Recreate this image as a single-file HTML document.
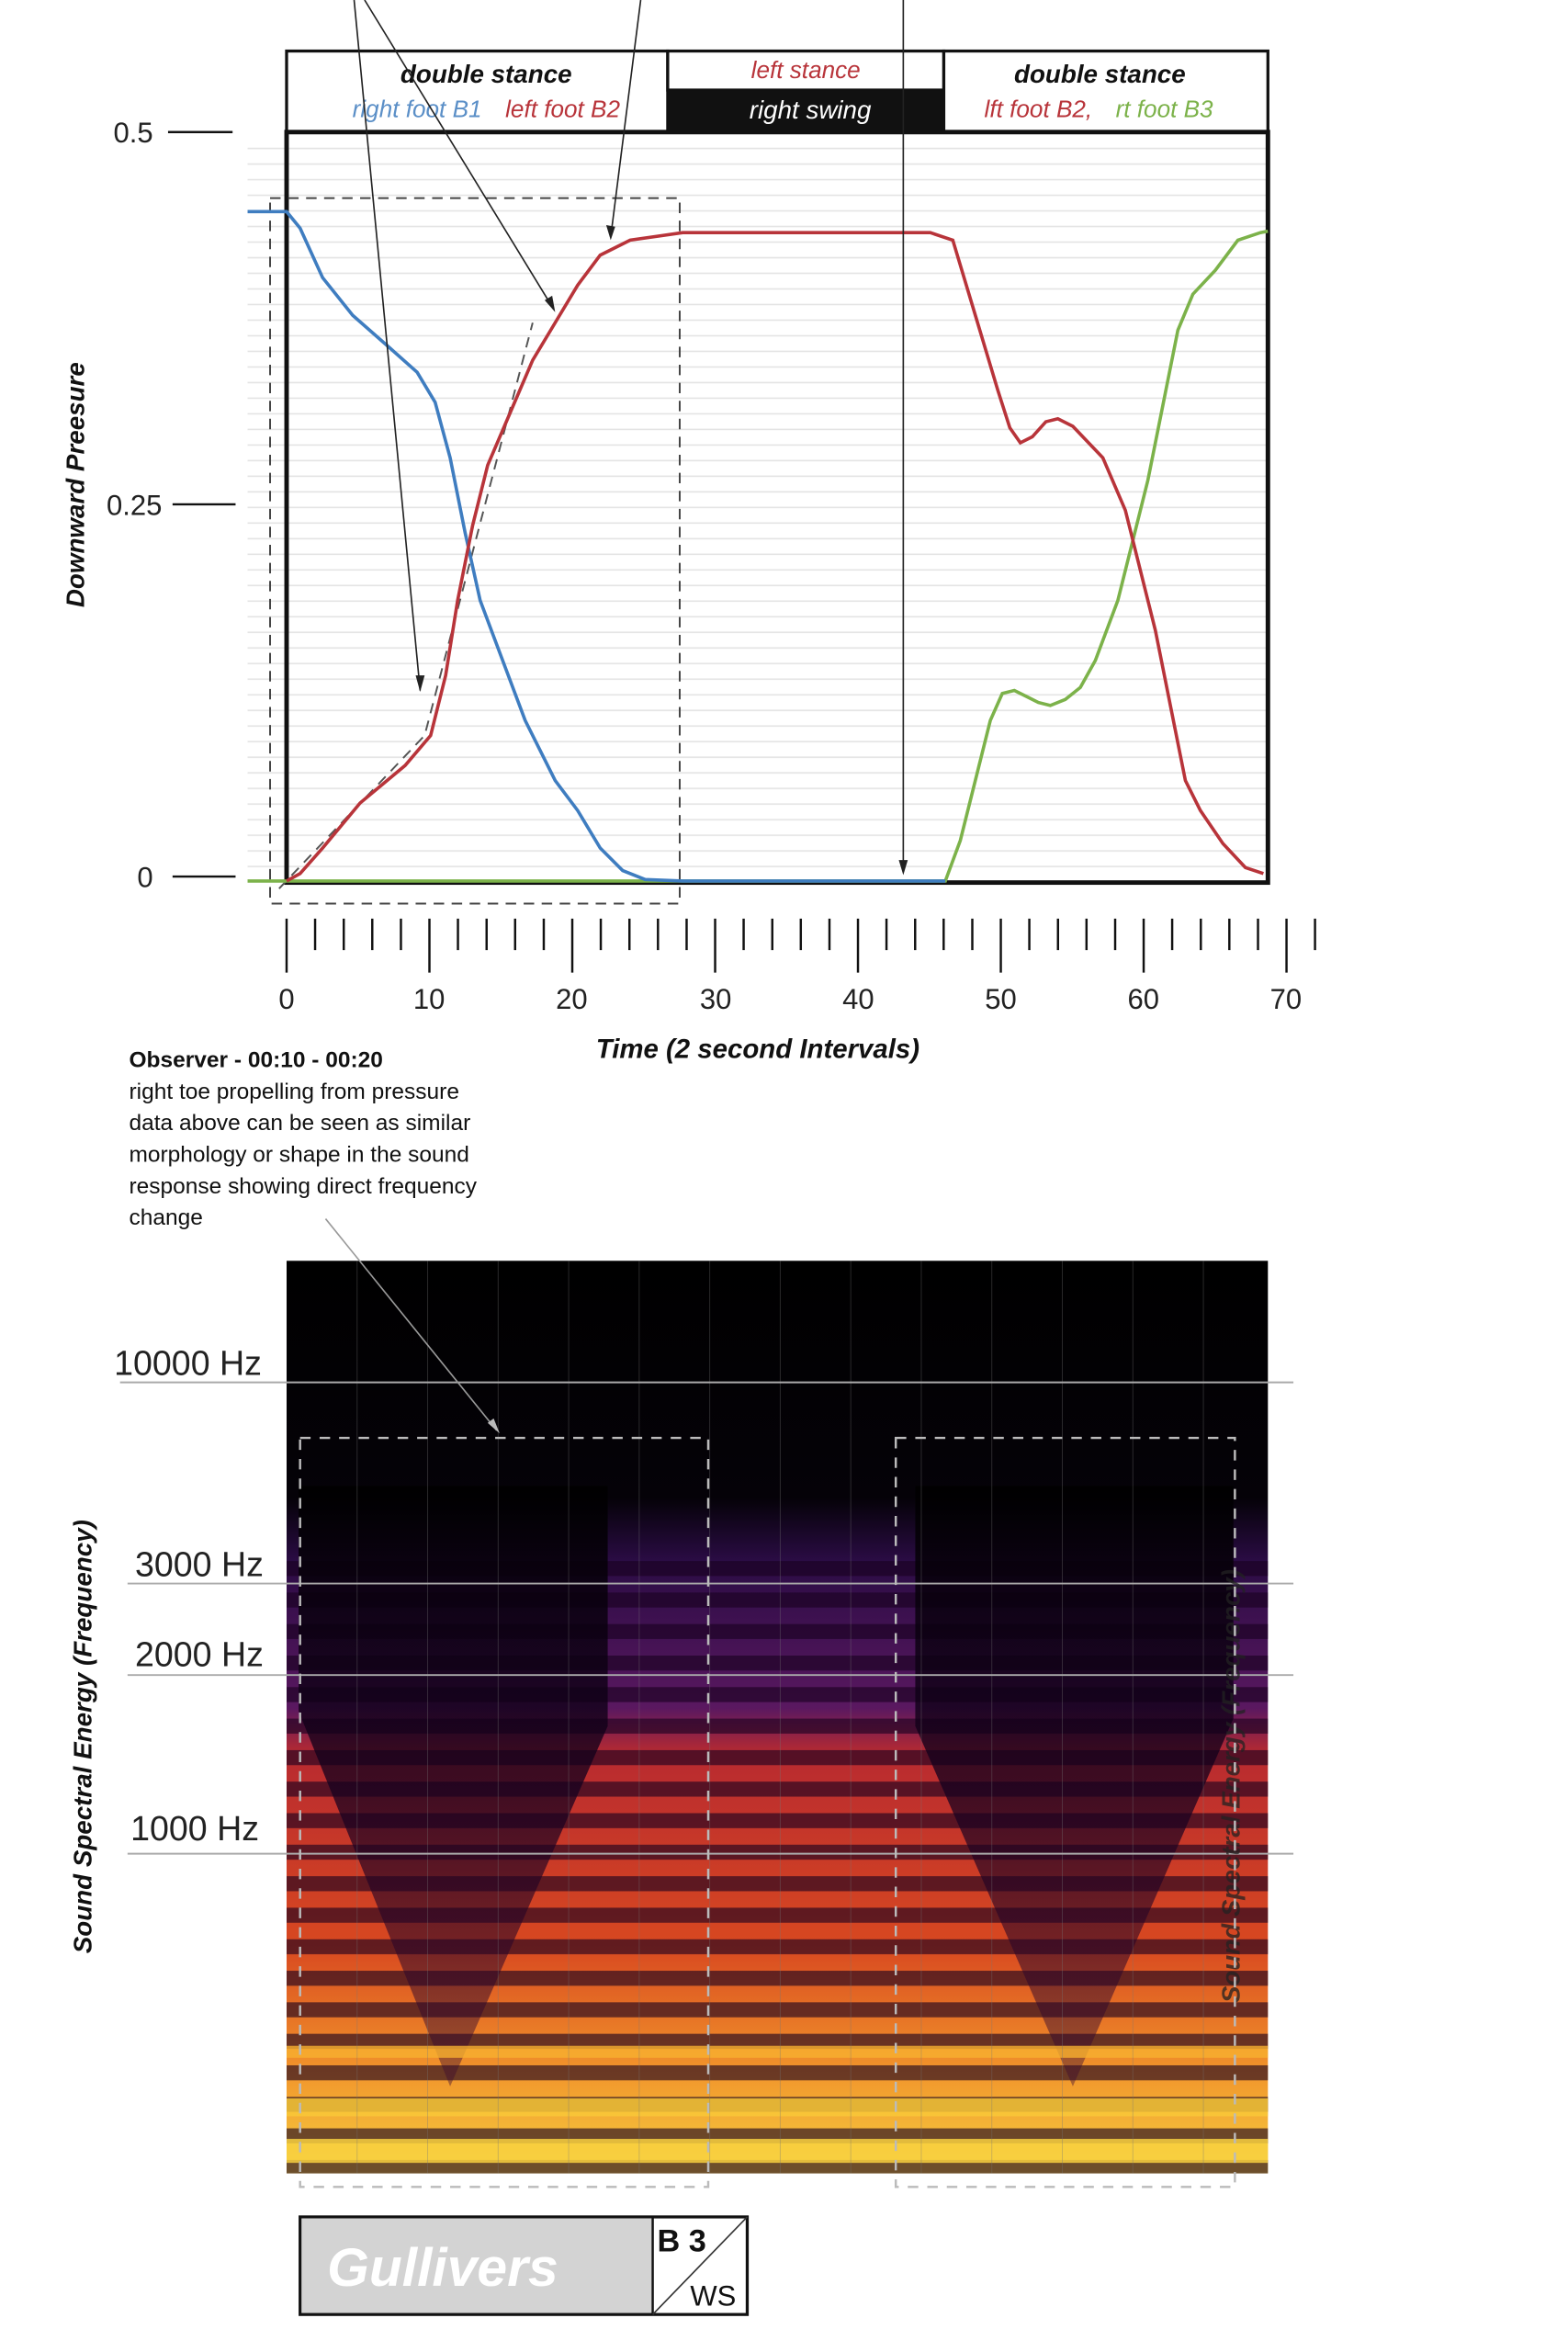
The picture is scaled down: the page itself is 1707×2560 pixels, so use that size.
<!DOCTYPE html>
<html><head><meta charset="utf-8"><style>
html,body{margin:0;padding:0;background:#fff;}
svg{display:block;}
text{font-family:"Liberation Sans",sans-serif;}
</style></head><body>
<svg width="1707" height="2560" viewBox="0 0 1045 1567" preserveAspectRatio="none" xmlns="http://www.w3.org/2000/svg">
<defs>
<pattern id="grid" x="0" y="88" width="10" height="10.4" patternUnits="userSpaceOnUse">
<line x1="0" y1="0.5" x2="10" y2="0.5" stroke="#e4e4e4" stroke-width="1"/>
</pattern>
<linearGradient id="spg" x1="0" y1="0" x2="0" y2="1">
<stop offset="0" stop-color="#000"/>
<stop offset="0.26" stop-color="#050208"/>
<stop offset="0.33" stop-color="#2b0c45"/>
<stop offset="0.49" stop-color="#5a1860"/>
<stop offset="0.54" stop-color="#b82a30"/>
<stop offset="0.75" stop-color="#d84820"/>
<stop offset="0.88" stop-color="#f0902a"/>
<stop offset="1" stop-color="#f8d040"/>
</linearGradient>
<pattern id="stripes" x="0" y="1040" width="20" height="21" patternUnits="userSpaceOnUse">
<rect x="0" y="0" width="20" height="10" fill="rgba(25,0,30,0.62)"/>
</pattern>
<linearGradient id="vdark" x1="0" y1="0" x2="0" y2="1">
<stop offset="0" stop-color="#000" stop-opacity="0.9"/>
<stop offset="0.5" stop-color="#14001e" stop-opacity="0.75"/>
<stop offset="1" stop-color="#3a0830" stop-opacity="0.4"/>
</linearGradient>
</defs>

<rect x="165" y="92" width="680" height="494" fill="url(#grid)"/>

<rect x="191" y="34" width="254" height="54" fill="#fff" stroke="#111" stroke-width="2"/>
<rect x="445" y="34" width="184" height="26" fill="#fff" stroke="#111" stroke-width="2"/>
<rect x="445" y="60" width="184" height="28" fill="#111"/>
<rect x="629" y="34" width="216" height="54" fill="#fff" stroke="#111" stroke-width="2"/>
<text x="324" y="55" font-size="17" font-weight="bold" font-style="italic" text-anchor="middle" fill="#111">double stance</text>
<text x="278" y="78" font-size="16" font-style="italic" text-anchor="middle" fill="#5b8fc7">right foot B1</text>
<text x="375" y="78" font-size="16" font-style="italic" text-anchor="middle" fill="#b8343a">left foot B2</text>
<text x="537" y="52" font-size="16" font-style="italic" text-anchor="middle" fill="#b8343a">left stance</text>
<text x="540" y="79" font-size="17" font-style="italic" text-anchor="middle" fill="#fff">right swing</text>
<text x="733" y="55" font-size="17" font-weight="bold" font-style="italic" text-anchor="middle" fill="#111">double stance</text>
<text x="692" y="78" font-size="16" font-style="italic" text-anchor="middle" fill="#b8343a">lft foot B2,</text>
<text x="776" y="78" font-size="16" font-style="italic" text-anchor="middle" fill="#7cb24a">rt foot B3</text>

<rect x="191" y="88" width="654" height="500" fill="none" stroke="#111" stroke-width="3"/>

<text x="102" y="95" font-size="19" text-anchor="end" fill="#222">0.5</text>
<line x1="112" y1="88" x2="155" y2="88" stroke="#111" stroke-width="1.5"/>
<text x="108" y="343" font-size="19" text-anchor="end" fill="#222">0.25</text>
<line x1="115" y1="336" x2="157" y2="336" stroke="#111" stroke-width="1.5"/>
<text x="102" y="591" font-size="19" text-anchor="end" fill="#222">0</text>
<line x1="115" y1="584" x2="157" y2="584" stroke="#111" stroke-width="1.5"/>
<text transform="translate(56,323) rotate(-90)" font-size="17" font-weight="bold" font-style="italic" text-anchor="middle" fill="#111">Downward Preesure</text>

<rect x="180" y="132" width="273" height="470" fill="none" stroke="#444" stroke-width="1.2" stroke-dasharray="7,5"/>
<polyline points="186,592 283,490 355,215" fill="none" stroke="#555" stroke-width="1.2" stroke-dasharray="7,5"/>

<polyline fill="none" stroke="#7cb24a" stroke-width="2.2" points="165,587 630,587 640,560 650,520 660,480 668,462 676,460 684,464 692,468 700,470 710,466 720,458 730,440 745,400 755,360 765,320 775,270 785,220 795,196 810,180 825,160 840,155 845,154"/>
<polyline fill="none" stroke="#3f7dc0" stroke-width="2.2" points="165,141 191,141 200,152 215,185 235,210 260,232 278,248 290,268 300,305 310,355 320,400 335,440 350,480 370,520 385,540 400,565 415,580 430,586 455,587 630,587"/>
<polyline fill="none" stroke="#b8343a" stroke-width="2.2" points="191,587 200,582 215,565 240,535 270,510 287,490 297,450 305,400 315,350 325,310 340,275 355,240 370,215 385,190 400,170 420,160 455,155 620,155 635,160 650,210 665,260 673,285 680,295 688,291 697,281 705,279 715,284 735,305 750,340 760,380 770,420 780,470 790,520 800,540 815,562 830,578 842,582"/>

<path stroke="#111" stroke-width="1.5" d="M210 612V633M229.1 612V633M248.1 612V633M267.2 612V633M305.2 612V633M324.3 612V633M343.3 612V633M362.4 612V633M400.4 612V633M419.5 612V633M438.5 612V633M457.6 612V633M495.6 612V633M514.7 612V633M533.7 612V633M552.8 612V633M590.8 612V633M609.9 612V633M628.9 612V633M648 612V633M686 612V633M705.1 612V633M724.1 612V633M743.2 612V633M781.2 612V633M800.3 612V633M819.3 612V633M838.4 612V633M876.4 612V633"/>
<path stroke="#111" stroke-width="1.5" d="M191 612V648M286.2 612V648M381.4 612V648M476.6 612V648M571.8 612V648M667 612V648M762.2 612V648M857.4 612V648"/>
<g font-size="19" text-anchor="middle" fill="#222">
<text x="191" y="672">0</text><text x="286" y="672">10</text><text x="381" y="672">20</text><text x="477" y="672">30</text><text x="572" y="672">40</text><text x="667" y="672">50</text><text x="762" y="672">60</text><text x="857" y="672">70</text>
</g>
<text x="505" y="705" font-size="18" font-style="italic" font-weight="bold" text-anchor="middle" fill="#111">Time (2 second Intervals)</text>

<g font-size="15" fill="#111">
<text x="86" y="711" font-weight="bold">Observer - 00:10 - 00:20</text>
<text x="86" y="732">right toe propelling from pressure</text>
<text x="86" y="753">data above can be seen as similar</text>
<text x="86" y="774">morphology or shape in the sound</text>
<text x="86" y="795">response showing direct frequency</text>
<text x="86" y="816">change</text>
</g>

<rect x="191" y="840" width="654" height="608" fill="url(#spg)"/>
<rect x="191" y="1040" width="654" height="408" fill="url(#stripes)"/>
<polygon points="199,990 405,990 405,1150 300,1390 199,1140" fill="url(#vdark)"/>
<polygon points="610,990 822,990 822,1145 715,1390 610,1150" fill="url(#vdark)"/>
<rect x="191" y="1363" width="654" height="8" fill="#f7b030" opacity="0.8"/>
<rect x="191" y="1398" width="654" height="12" fill="#f8c838" opacity="0.85"/>
<rect x="191" y="1425" width="654" height="16" fill="#f8d040" opacity="0.85"/>
<g stroke="#777" stroke-width="0.6" opacity="0.35">
<line x1="238" y1="840" x2="238" y2="1448"/><line x1="285" y1="840" x2="285" y2="1448"/><line x1="332" y1="840" x2="332" y2="1448"/><line x1="379" y1="840" x2="379" y2="1448"/><line x1="426" y1="840" x2="426" y2="1448"/><line x1="473" y1="840" x2="473" y2="1448"/><line x1="520" y1="840" x2="520" y2="1448"/><line x1="567" y1="840" x2="567" y2="1448"/><line x1="614" y1="840" x2="614" y2="1448"/><line x1="661" y1="840" x2="661" y2="1448"/><line x1="708" y1="840" x2="708" y2="1448"/><line x1="755" y1="840" x2="755" y2="1448"/><line x1="802" y1="840" x2="802" y2="1448"/>
</g>
<g stroke="#aaa" stroke-width="1.2">
<line x1="80" y1="921" x2="862" y2="921"/>
<line x1="85" y1="1055" x2="862" y2="1055"/>
<line x1="85" y1="1116" x2="862" y2="1116"/>
<line x1="85" y1="1235" x2="862" y2="1235"/>
</g>
<g font-size="23" fill="#222">
<text x="76" y="916">10000 Hz</text>
<text x="90" y="1050">3000 Hz</text>
<text x="90" y="1110">2000 Hz</text>
<text x="87" y="1226">1000 Hz</text>
</g>
<text transform="translate(61,1157) rotate(-90)" font-size="17" font-style="italic" font-weight="bold" text-anchor="middle" fill="#111">Sound Spectral  Energy (Frequency)</text>
<text transform="translate(826,1190) rotate(-90)" font-size="17" font-style="italic" font-weight="bold" text-anchor="middle" fill="#222" opacity="0.75">Sound Spectral  Energy (Frequency)</text>
<g fill="none" stroke="#bbb" stroke-width="1.5" stroke-dasharray="7,6">
<rect x="200" y="958" width="272" height="499"/>
<rect x="597" y="958" width="226" height="499"/>
</g>

<g stroke="#222" stroke-width="1" fill="none">
<line x1="236" y1="0" x2="280" y2="460"/>
<line x1="243" y1="0" x2="369" y2="206"/>
<line x1="427" y1="0" x2="407" y2="158"/>
<line x1="602" y1="0" x2="602" y2="581"/>
</g>
<line x1="217" y1="812" x2="331" y2="953" stroke="#999" stroke-width="1"/>
<g fill="#222">
<polygon points="280,461 277,450 283,450"/>
<polygon points="370,208 363,200 368,197"/>
<polygon points="407,160 404,150 410,151"/>
<polygon points="602,583 599,573 605,573"/>
</g>
<polygon points="333,955 325,948 329,945" fill="#bbb"/>

<rect x="200" y="1477" width="298" height="65" fill="#fff" stroke="#111" stroke-width="2"/>
<rect x="201" y="1478" width="234" height="63" fill="#d3d3d3"/>
<line x1="435" y1="1477" x2="435" y2="1542" stroke="#111" stroke-width="1.5"/>
<line x1="435" y1="1542" x2="498" y2="1477" stroke="#333" stroke-width="1"/>
<text x="218" y="1523" font-size="36" font-weight="bold" font-style="italic" fill="#fff">Gullivers</text>
<text x="438" y="1500" font-size="21" font-weight="bold" fill="#111">B 3</text>
<text x="460" y="1536" font-size="19" fill="#111">WS</text>
</svg>
</body></html>
